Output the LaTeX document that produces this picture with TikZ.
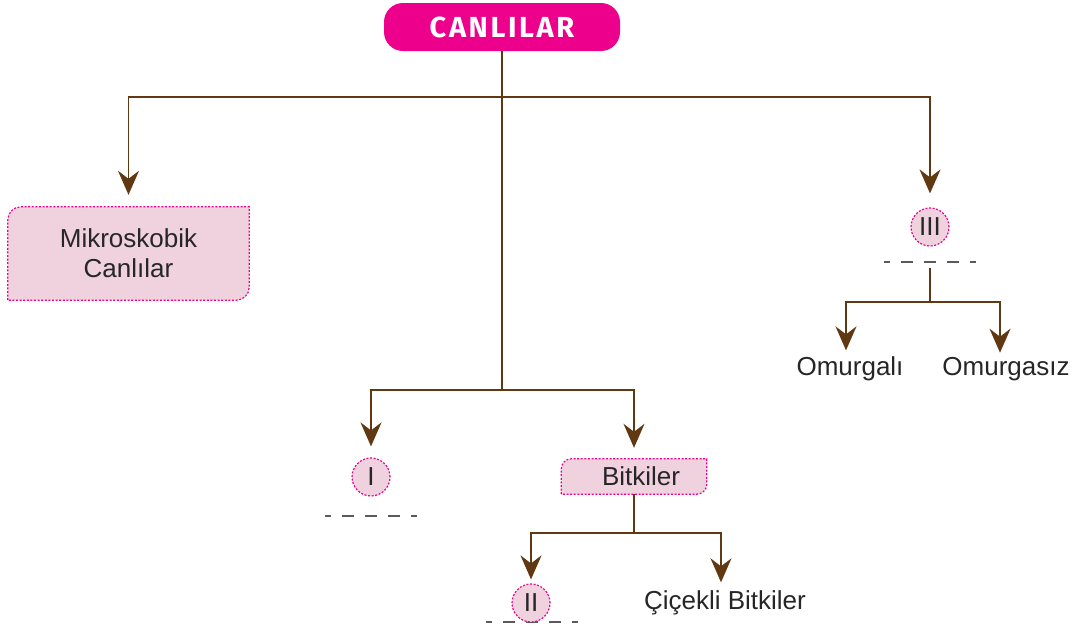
\documentclass[tikz,border=0pt]{standalone}
\usepackage{fontspec}
\setmainfont{Liberation Sans}
\newfontfamily\titlefont{Fira Sans}[LetterSpace=9]
\usetikzlibrary{arrows.meta}
\definecolor{canlipink}{HTML}{EC008C}
\definecolor{boxpink}{HTML}{F0D2DF}
\definecolor{dalbrown}{HTML}{603913}
\definecolor{blankgray}{HTML}{5A5A5A}

\begin{document}
\begin{tikzpicture}[x=1pt, y=1pt,
    every node/.style={font=\fontsize{26}{30}\selectfont, text=black!85},
    line/.style={draw=dalbrown, line width=1.8pt},
    arr/.style={line, -{Stealth[length=24pt, width=21pt, inset=8pt]}},
    roman/.style={circle, fill=boxpink, draw=canlipink, dash pattern=on 2pt off 1.6pt, line width=1.2pt, minimum size=38pt, inner sep=0pt},
    boxedge/.style={fill=boxpink, draw=canlipink, dash pattern=on 2pt off 1.6pt, line width=1.2pt},
    blank/.style={draw=blankgray, line width=1.5pt, dash pattern=on 12pt off 11pt, dash phase=6pt}]
    \useasboundingbox (0,0) rectangle (1083,-630);

    % Title
    \node[fill=canlipink, rounded corners=19pt, minimum width=236pt, minimum height=48pt, font=\titlefont\bfseries\fontsize{29}{30}\selectfont, text=white] (canlilar) at (502,-27) {CANLILAR};

    % Mikroskobik canlilar (two rounded corners)
    \node[minimum width=241pt, minimum height=93pt, align=center] (mikro) at (128.5,-253.5) {};
    \filldraw[boxedge] (mikro.south west) -- ([yshift=-13pt]mikro.north west) arc(180:90:13pt) -- (mikro.north east) -- ([yshift=13pt]mikro.south east) arc(0:-90:13pt) -- cycle;
    \node[align=center] at (mikro.center) {Mikroskobik\\Canlılar};

    % III
    \node[roman] (uc) at (930,-227) {III};
    \coordinate (uc-d) at (930,-262);
    \draw[blank] ([xshift=-46pt]uc-d) -- ([xshift=46pt]uc-d);
    \node (omurgali) at (850,-369) {Omurgalı};
    \node (omurgasiz) at (1006,-369) {Omurgasız};

    % I
    \node[roman] (bir) at (371,-477) {I};
    \draw[blank] ([shift={(-46pt,-39pt)}]bir.center) -- ([shift={(46pt,-39pt)}]bir.center);

    % Bitkiler (two rounded corners)
    \node[minimum width=145pt, minimum height=35pt] (bitkiler) at (634,-476.5) {};
    \filldraw[boxedge] (bitkiler.south west) -- ([yshift=-10pt]bitkiler.north west) arc(180:90:10pt) -- (bitkiler.north east) -- ([yshift=10pt]bitkiler.south east) arc(0:-90:10pt) -- cycle;
    \node at ([xshift=7pt]bitkiler.center) {Bitkiler};

    % II
    \draw[blank] (486,-622) -- (578,-622);
    \node[roman] (iki) at (531,-603) {II};
    \node (cicekli) at (725,-603) {Çiçekli Bitkiler};

    % Branches
    \coordinate (j1) at (502,-97);
    \coordinate (j2) at (502,-390);
    \draw[line] (canlilar.south) -- (j2);
    \draw[arr, shorten >=12pt] (j1) -| (mikro.north);
    \draw[arr, shorten >=14pt] (j1) -| (uc.north);
    \draw[arr, shorten >=11pt] (j2) -| (bir.north);
    \draw[arr, shorten >=11pt] (j2) -| (bitkiler.north);

    % Under Bitkiler
    \coordinate (j3) at (634,-533);
    \draw[line] (bitkiler.south) -- (j3);
    \draw[arr, shorten >=4pt] (j3) -| (iki.north);
    \draw[arr, shorten >=5pt] (j3) -| ([xshift=-4pt]cicekli.north);

    % Under III
    \coordinate (j4) at (930,-302);
    \draw[line] ([yshift=-6pt]uc-d) -- (j4);
    \draw[arr, shorten >=3pt] (j4) -| ([xshift=-4pt]omurgali.north);
    \draw[arr, shorten >=1pt] (j4) -| ([xshift=-6pt]omurgasiz.north);
\end{tikzpicture}
\end{document}
